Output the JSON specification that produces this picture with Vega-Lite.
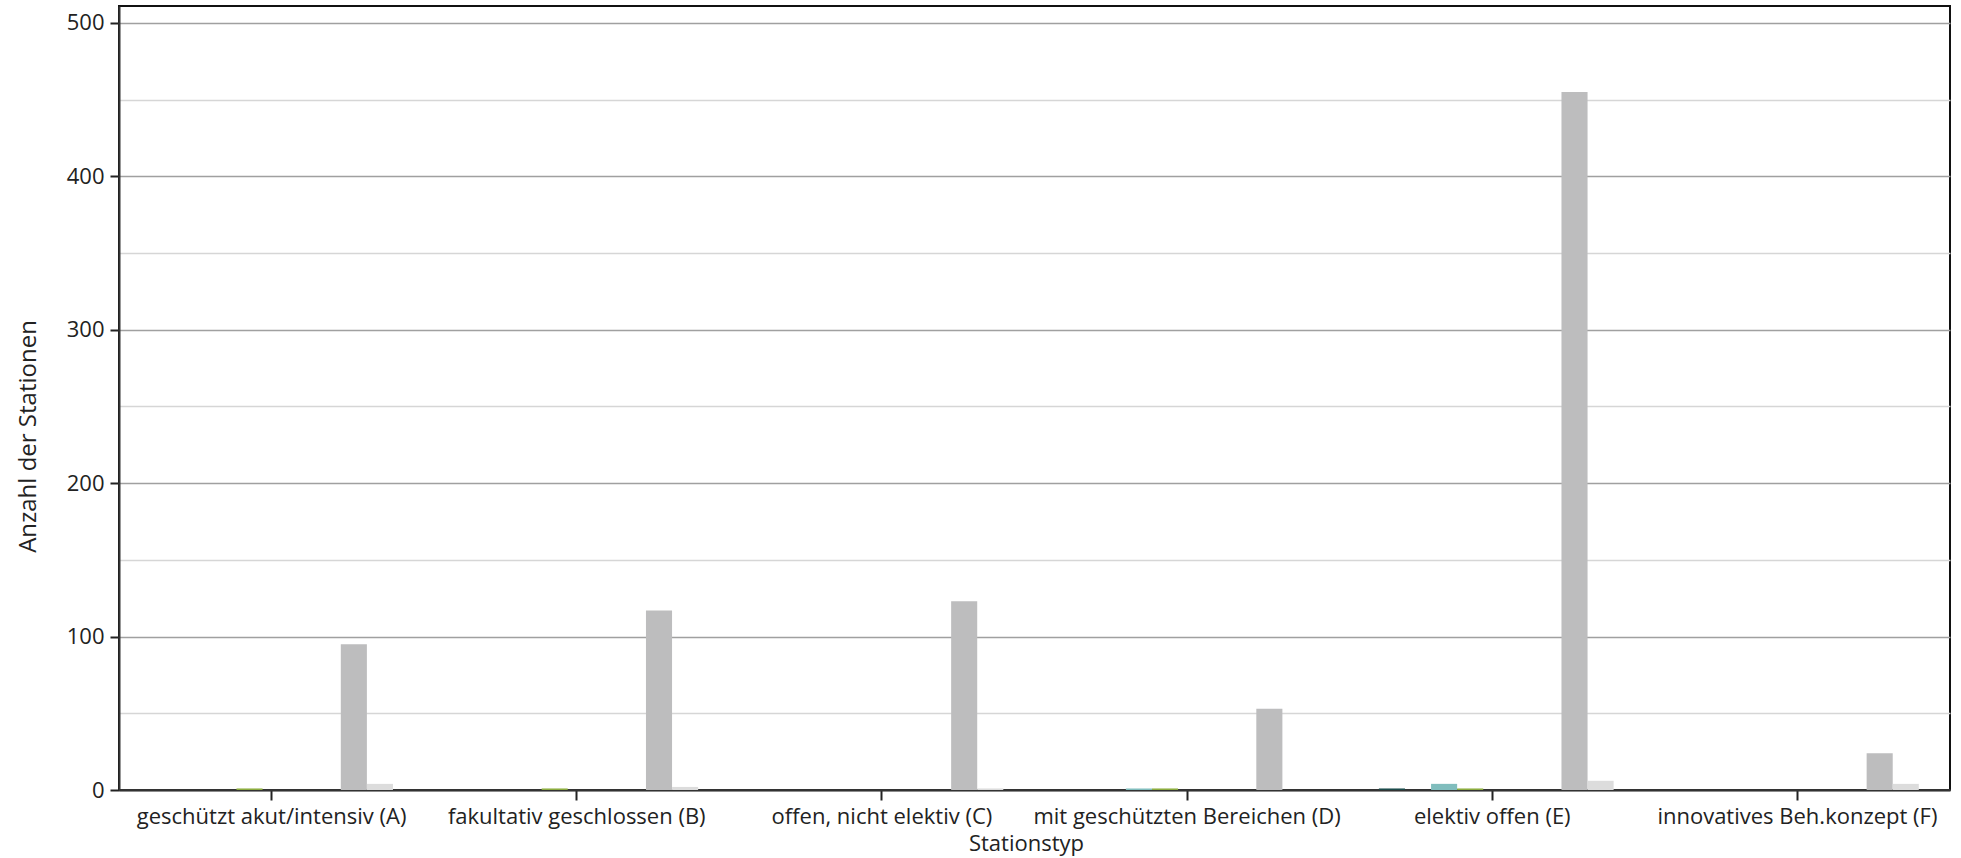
{
  "$schema": "https://vega.github.io/schema/vega-lite/v6.json",
  "autosize": "none",
  "width": 1831,
  "height": 784,
  "padding": {"left": 119, "top": 6, "right": 11, "bottom": 68},
  "background": "white",
  "config": {
    "font": "Open Sans",
    "view": {"stroke": "#111111", "strokeWidth": 2},
    "axis": {"labelFont": "Open Sans", "titleFont": "Open Sans", "labelColor": "#222222", "titleColor": "#222222", "titleFontWeight": "normal"}
  },
  "data": {
    "values": [
      {"Stationstyp": "geschützt akut/intensiv (A)", "Serie": "S5", "Anzahl": 1},
      {"Stationstyp": "geschützt akut/intensiv (A)", "Serie": "S9", "Anzahl": 95},
      {"Stationstyp": "geschützt akut/intensiv (A)", "Serie": "S10", "Anzahl": 4},
      {"Stationstyp": "fakultativ geschlossen (B)", "Serie": "S5", "Anzahl": 1},
      {"Stationstyp": "fakultativ geschlossen (B)", "Serie": "S9", "Anzahl": 117},
      {"Stationstyp": "fakultativ geschlossen (B)", "Serie": "S10", "Anzahl": 2},
      {"Stationstyp": "offen, nicht elektiv (C)", "Serie": "S9", "Anzahl": 123},
      {"Stationstyp": "offen, nicht elektiv (C)", "Serie": "S10", "Anzahl": 1},
      {"Stationstyp": "mit geschützten Bereichen (D)", "Serie": "S4", "Anzahl": 1},
      {"Stationstyp": "mit geschützten Bereichen (D)", "Serie": "S5", "Anzahl": 1},
      {"Stationstyp": "mit geschützten Bereichen (D)", "Serie": "S9", "Anzahl": 53},
      {"Stationstyp": "elektiv offen (E)", "Serie": "S2", "Anzahl": 1},
      {"Stationstyp": "elektiv offen (E)", "Serie": "S4", "Anzahl": 4},
      {"Stationstyp": "elektiv offen (E)", "Serie": "S5", "Anzahl": 1},
      {"Stationstyp": "elektiv offen (E)", "Serie": "S9", "Anzahl": 455},
      {"Stationstyp": "elektiv offen (E)", "Serie": "S10", "Anzahl": 6},
      {"Stationstyp": "innovatives Beh.konzept (F)", "Serie": "S9", "Anzahl": 24},
      {"Stationstyp": "innovatives Beh.konzept (F)", "Serie": "S10", "Anzahl": 4}
    ]
  },
  "encoding": {
    "x": {
      "field": "Stationstyp", "type": "nominal",
      "sort": ["geschützt akut/intensiv (A)", "fakultativ geschlossen (B)", "offen, nicht elektiv (C)", "mit geschützten Bereichen (D)", "elektiv offen (E)", "innovatives Beh.konzept (F)"],
      "scale": {"paddingInner": 0, "paddingOuter": 0},
      "axis": {"labelAngle": 0, "labelFontSize": 22, "labelLimit": 0, "labelOverlap": false, "tickSize": 10, "tickColor": "#222222", "tickWidth": 2, "domainColor": "#333333", "domainWidth": 2, "labelPadding": 6, "title": "Stationstyp", "titleFontSize": 22, "titleX": 907, "titleY": 53, "titleAlign": "center", "titleBaseline": "middle", "grid": false}
    },
    "xOffset": {
      "field": "Serie", "type": "nominal",
      "scale": {"domain": ["S1","S2","S3","S4","S5","S6","S7","S8","S9","S10","S11"], "paddingInner": 0, "paddingOuter": 0.35, "align": 0.72}
    }
  },
  "layer": [
    {
      "mark": {"type": "bar"},
      "encoding": {
        "y": {
          "field": "Anzahl", "type": "quantitative",
          "scale": {"domain": [0, 511], "nice": false},
          "axis": {"values": [0, 100, 200, 300, 400, 500], "grid": true, "gridColor": "#a0a0a0", "gridWidth": 1.5, "tickSize": 9, "tickColor": "#222222", "tickWidth": 2, "domainColor": "#333333", "domainWidth": 2, "labelFontSize": 22, "labelPadding": 6, "title": "Anzahl der Stationen", "titleFontSize": 24, "titleX": -91, "titleY": 430, "titleAlign": "center", "titleBaseline": "middle", "titleAngle": -90}
        },
        "color": {
          "field": "Serie", "type": "nominal", "legend": null,
          "scale": {"domain": ["S1","S2","S3","S4","S5","S6","S7","S8","S9","S10","S11"], "range": ["#2f6f6f","#1c4b4b","#4f9a9a","#80bdbd","#8cac3e","#b5c98a","#6d6d6d","#999999","#bdbdbe","#dcdcdc","#eeeeee"]}
        }
      }
    },
    {
      "mark": {"type": "rule", "opacity": 0},
      "encoding": {
        "y": {
          "datum": 0, "type": "quantitative",
          "axis": {"orient": "left", "values": [50, 150, 250, 350, 450], "grid": true, "gridColor": "#d6d6d6", "gridWidth": 1.5, "ticks": false, "labels": false, "domain": false, "title": null}
        }
      }
    }
  ],
  "resolve": {"axis": {"y": "independent"}}
}
